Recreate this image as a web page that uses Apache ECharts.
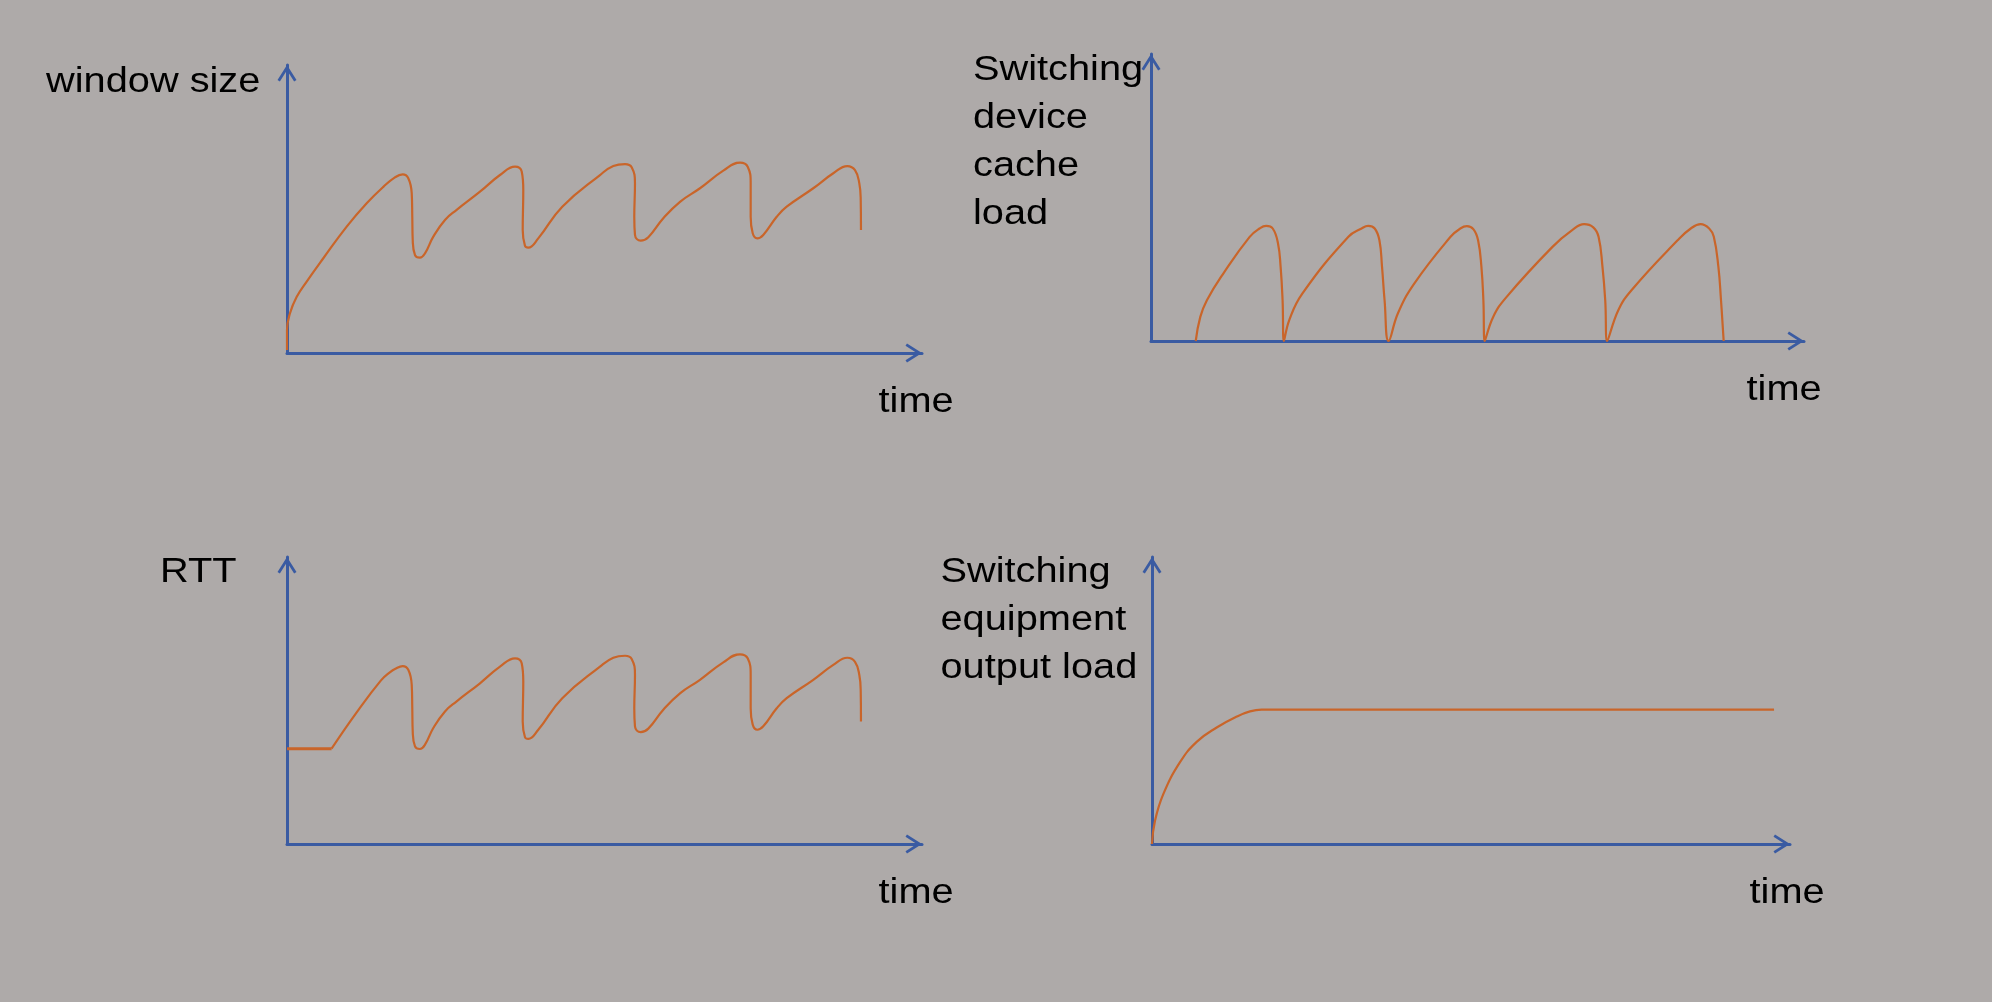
<!DOCTYPE html>
<html>
<head>
<meta charset="utf-8">
<script src="https://cdn.jsdelivr.net/npm/echarts@6/dist/echarts.min.js"></script>
<style>
html,body{margin:0;padding:0;background:#aeaaa9;}
#chart{width:1992px;height:1002px;}
</style>
</head>
<body>
<div id="chart"></div>
<script>
// ---- data (time and value in % of each axis length) ----
const windowSizeTime = [0,0,0.47,1.53,3.1,5.72,9.4,12.55,15.17,17.0,18.22,19.1,19.64,19.73,19.8,20.16,20.94,21.73,23.04,24.88,26.72,30.39,33.54,35.91,36.96,37.21,37.12,37.48,38.0,39.57,43.35,49.29,51.39,53.23,54.28,54.8,54.69,54.8,55.7,56.9,59.26,61.89,65.04,68.71,71.34,72.55,73.02,73.02,73.34,74.06,75.0,77.12,78.69,82.88,86.03,88.24,89.45,90.13,90.35,90.39];
const windowSizeValue = [1.0,8.0,13.8,19.5,24.8,32.9,43.9,52.0,57.7,61.0,62.0,60.7,55.5,47.3,39.2,34.0,33.1,34.6,40.4,46.2,49.7,56.0,61.8,64.7,63.0,56.6,42.7,37.2,36.6,39.8,50.8,61.8,64.9,65.6,64.5,58.9,47.3,41.0,39.0,40.2,46.8,52.5,57.2,63.3,66.1,64.7,58.9,47.3,41.6,39.8,41.0,47.3,50.8,57.2,62.4,64.9,63.5,58.9,53.1,42.7];

const cacheLoadTime = [6.85,7.55,8.56,11.07,15.11,16.62,17.63,18.64,19.45,19.85,20.15,20.35,21.16,23.17,30.23,32.25,33.26,34.26,34.98,35.38,35.77,36.39,37.8,40.31,45.87,47.37,48.38,49.39,50.09,50.6,50.9,51.1,52.4,54.43,61.48,64.5,66.32,67.73,68.54,69.14,69.56,69.85,71.56,73.58,80.64,82.66,84.17,85.48,86.19,86.89,87.29,87.7];
const cacheLoadValue = [0,8.4,14.2,23.5,36.3,39.2,40.1,39.2,34.0,25.8,14.2,0,7.2,16.5,36.3,39.2,40.1,39.2,35.1,25.8,14.2,0,9.6,20.0,36.3,39.2,40.0,38.9,35.1,25.8,14.2,0,8.4,15.3,32.8,38.6,40.7,39.6,36.3,25.8,14.2,0,10.7,17.7,35.1,39.2,40.7,39.2,36.3,25.8,14.2,0];

const rttBaseTime = [0,7.02];
const rttBaseValue = [33.2,33.2];
const rttTime = [7.02,10.83,14.8,16.3,17.0,18.22,19.1,19.64,19.73,19.8,20.16,20.94,21.73,23.04,24.88,26.72,30.39,33.54,35.91,36.96,37.21,37.12,37.48,38.0,39.57,43.35,49.29,51.39,53.23,54.28,54.8,54.69,54.8,55.7,56.9,59.26,61.89,65.04,68.71,71.34,72.55,73.02,73.02,73.34,74.06,75.0,77.12,78.69,82.88,86.03,88.24,89.45,90.13,90.35,90.39];
const rttValue = [33.2,45.4,57.0,60.0,61.0,62.0,60.7,55.5,47.3,39.2,34.0,33.1,34.6,40.4,46.2,49.7,56.0,61.8,64.7,63.0,56.6,42.7,37.2,36.6,39.8,50.8,61.8,64.9,65.6,64.5,58.9,47.3,41.0,39.0,40.2,46.8,52.5,57.2,63.3,66.1,64.7,58.9,47.3,41.6,39.8,41.0,47.3,50.8,57.2,62.4,64.9,63.5,58.9,53.1,42.7];

const outputLoadTime = [0,0.47,1.77,4.39,7.0,10.14,13.28,15.36,17.19,97.5];
const outputLoadValue = [0,8.1,17.4,28.5,35.6,40.6,44.4,46.2,46.8,46.8];

const yLabels = ['window size', 'Switching\ndevice\ncache\nload', 'RTT', 'Switching\nequipment\noutput load'];
const xLabel = 'time';

// ---- styles ----
const BLUE = '#3a5ba2';
const ORANGE = '#c9652a';
const FONT = '35.5px "Liberation Sans", Arial, sans-serif';
const CHEVRON = 'path://M9.5,0 L19,15 L16.63,16.5 L9.5,5.24 L2.37,16.5 L0,15 Z';

const grids = [
  {left: 287, top: 65, width: 635, height: 288},
  {left: 1151, top: 54, width: 653, height: 287},
  {left: 287, top: 557, width: 635, height: 287},
  {left: 1152, top: 557, width: 638, height: 287}
];

function zip(a, b) { return a.map((v, i) => [v, b[i]]); }

function axis(i) {
  return {
    type: 'value', gridIndex: i, min: 0, max: 100,
    axisLine: {show: true, onZero: false, symbol: ['none', CHEVRON], symbolSize: [19, 16.5], symbolOffset: [0, -8.25],
      lineStyle: {color: BLUE, width: 3}},
    axisTick: {show: false}, axisLabel: {show: false}, splitLine: {show: false}
  };
}

function lineSeries(idx, data, width, smooth) {
  return {
    type: 'line', xAxisIndex: idx, yAxisIndex: idx, data: data,
    showSymbol: false, symbol: 'none', smooth: smooth, clip: false, silent: true,
    lineStyle: {color: ORANGE, width: width}, z: 3
  };
}

function txt(x, y, text) {
  return {type: 'text', x: x, y: y, scaleX: 1.12, silent: true,
    style: {text: text, font: FONT, fill: '#000', align: 'left', verticalAlign: 'top', lineHeight: 48}};
}

const chart = echarts.init(document.getElementById('chart'), null, {renderer: 'canvas'});
chart.setOption({
  backgroundColor: '#aeaaa9',
  animation: false,
  grid: grids,
  xAxis: [0,1,2,3].map(axis),
  yAxis: [0,1,2,3].map(axis),
  series: [
    lineSeries(0, zip(windowSizeTime, windowSizeValue), 2.2, 0.45),
    lineSeries(1, zip(cacheLoadTime, cacheLoadValue), 2.2, 0.45),
    lineSeries(2, zip(rttBaseTime, rttBaseValue), 3, false),
    lineSeries(2, zip(rttTime, rttValue), 2.2, 0.45),
    lineSeries(3, zip(outputLoadTime, outputLoadValue), 2.2, 0.45)
  ],
  graphic: [
    txt(46, 58.7, yLabels[0]),
    txt(878.5, 378.7, xLabel),
    txt(973, 46.4, yLabels[1]),
    txt(1746.5, 366.7, xLabel),
    txt(160, 548.7, yLabels[2]),
    txt(878.5, 869.7, xLabel),
    txt(940.5, 548.7, yLabels[3]),
    txt(1749.5, 869.7, xLabel)
  ]
});
</script>
</body>
</html>
